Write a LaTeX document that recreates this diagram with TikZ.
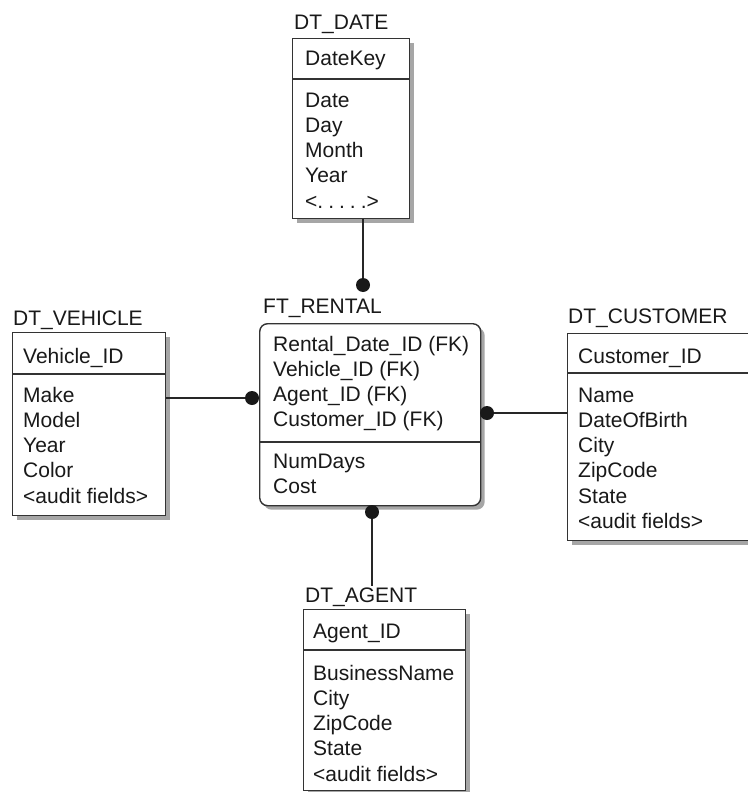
\documentclass[tikz,border=0pt]{standalone}
\usepackage{fontspec}
\setmainfont{Liberation Sans}
\usetikzlibrary{shadows}
\begin{document}
\begin{tikzpicture}[x=1pt,y=-1pt,
  every node/.style={font=\fontsize{21}{25}\selectfont, text=black!90},
  ttl/.style={anchor=base west, inner sep=0pt},
  fld/.style={anchor=base west, inner sep=0pt},
  ent/.style={draw=black!80, line width=1.4pt, fill=white, anchor=north west, inner sep=0pt,
    drop shadow={shadow xshift=4pt, shadow yshift=-4pt, fill=black!35, opacity=1}},
  sepline/.style={draw=black!80, line width=1.4pt},
  conn/.style={draw=black!85, line width=1.4pt},
  dot/.style={circle, fill=black!90, draw=none, inner sep=0pt, minimum size=14pt}]
\useasboundingbox[fill=white] (0,0) rectangle (747,792);

% ---------- entities ----------
\node[ent, minimum width=117pt, minimum height=180pt] (date) at (292,38) {};
\node[ent, minimum width=153pt, minimum height=183pt] (vehicle) at (12,332) {};
\node[ent, rounded corners=8pt, minimum width=221pt, minimum height=182pt] (rental) at (259,323) {};
\node[ent, minimum width=200pt, minimum height=207pt] (customer) at (567,333) {};
\node[ent, minimum width=162pt, minimum height=181pt] (agent) at (303,609) {};

% separators
\draw[sepline] (292,79) -- (409,79);
\draw[sepline] (12,374) -- (165,374);
\draw[sepline] (259,442) -- (480,442);
\draw[sepline] (567,373) -- (767,373);
\draw[sepline] (303,650) -- (465,650);

% ---------- titles ----------
\node[ttl] (tdate) at (294,30) {DT\_DATE};
\node[ttl] (tveh) at (13,325) {DT\_VEHICLE};
\node[ttl] (trent) at (263,313) {FT\_RENTAL};
\node[ttl] (tcust) at (568,323) {DT\_CUSTOMER};
\node[ttl] (tagent) at (305,602) {DT\_AGENT};

% ---------- fields ----------
\node[fld] (date-k) at (305,66) {DateKey};
\foreach [count=\i from 0] \t in {Date,Day,Month,Year,{<.\kern5pt.\kern5pt.\kern5pt.\kern5pt.>}}
  \node[fld] (date-f\i) at (305,107+25.3*\i) {\t};

\node[fld] (veh-k) at (23,363) {Vehicle\_ID};
\foreach [count=\i from 0] \t in {Make,Model,Year,Color,{<audit fields>}}
  \node[fld] (veh-f\i) at (23,402+25.3*\i) {\t};

\foreach [count=\i from 0] \t in {{Rental\_Date\_ID (FK)},{Vehicle\_ID (FK)},{Agent\_ID (FK)},{Customer\_ID (FK)}}
  \node[fld] (rent-k\i) at (273,351+25.3*\i) {\t};
\node[fld] (rent-f0) at (273,468) {NumDays};
\node[fld] (rent-f1) at (273,493) {Cost};

\node[fld] (cust-k) at (578,363) {Customer\_ID};
\foreach [count=\i from 0] \t in {Name,DateOfBirth,City,ZipCode,State,{<audit fields>}}
  \node[fld] (cust-f\i) at (578,402+25.3*\i) {\t};

\node[fld] (agent-k) at (313,638) {Agent\_ID};
\foreach [count=\i from 0] \t in {BusinessName,City,ZipCode,State,{<audit fields>}}
  \node[fld] (agent-f\i) at (313,680+25.3*\i) {\t};

% ---------- connectors ----------
\coordinate (dd) at (363,285);
\coordinate (dv) at (252,398);
\coordinate (dc) at (487,413);
\coordinate (da) at (372,512);
\coordinate (atop) at (372,586);
\draw[conn] (dd |- date.south) -- (dd);
\draw[conn] (vehicle.east |- dv) -- (dv);
\draw[conn] (dc) -- (customer.west |- dc);
\draw[conn] (da) -- (atop);
\node[dot] (ddot) at (dd) {};
\node[dot] (vdot) at (dv) {};
\node[dot] (cdot) at (dc) {};
\node[dot] (adot) at (da) {};
\end{tikzpicture}
\end{document}
